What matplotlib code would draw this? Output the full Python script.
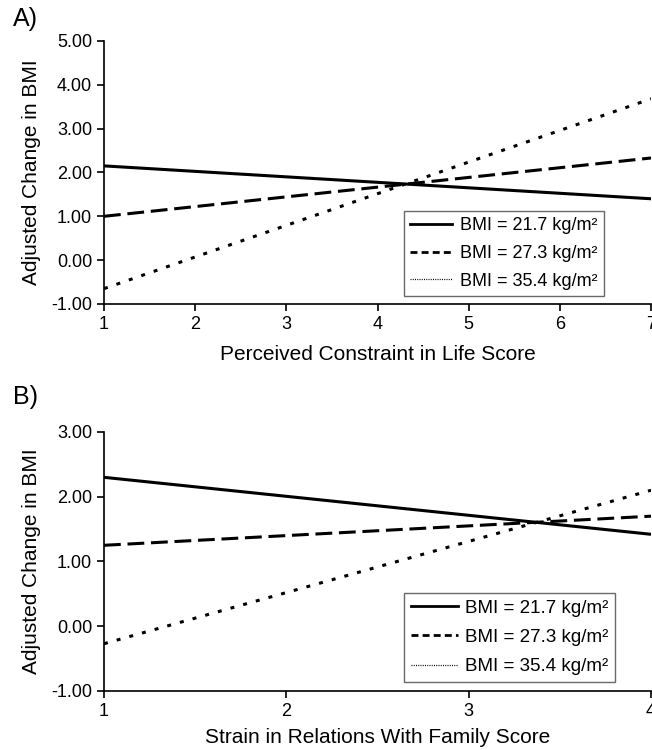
import matplotlib
matplotlib.use("Agg")
import matplotlib.pyplot as plt
from matplotlib.lines import Line2D
import numpy as np

plt.rcParams['font.family'] = ['Liberation Sans', 'DejaVu Sans']

# Panel A data
xA = [1, 7]
a_low = [2.15, 1.40]
a_mid = [1.00, 2.33]
a_high = [-0.65, 3.68]
# Panel B data
xB = [1, 4]
b_low = [2.30, 1.42]
b_mid = [1.25, 1.70]
b_high = [-0.27, 2.10]

labelsA = ["BMI = 21.7 kg/m²", "BMI = 27.3 kg/m²", "BMI = 35.4 kg/m²"]
labelsB = ["BMI = 21.7 kg/m²", "BMI = 27.3 kg/m²", "BMI = 35.4 kg/m²"]

fig = plt.figure(figsize=(6.52, 7.5), dpi=100)
axA = fig.add_axes([0.1595, 0.5947, 0.839, 0.3507])
axB = fig.add_axes([0.1595, 0.0787, 0.839, 0.3453])

lw = 2.2
def draw(ax, x, lo, mid, hi):
    ax.plot(x, lo, color='black', lw=lw, solid_capstyle='butt')
    ax.plot(x, mid, color='black', lw=lw, dashes=(5.5, 2.2))
    ax.plot(x, hi, color='black', lw=lw, dashes=(1.3, 3.0))

draw(axA, xA, a_low, a_mid, a_high)
draw(axB, xB, b_low, b_mid, b_high)

for ax in (axA, axB):
    ax.spines['top'].set_visible(False)
    ax.spines['right'].set_visible(False)
    ax.spines['left'].set_linewidth(1.2)
    ax.spines['bottom'].set_linewidth(1.2)
    ax.tick_params(direction='out', length=5, width=1.2, labelsize=13)
    ax.yaxis.set_major_formatter(matplotlib.ticker.FormatStrFormatter('%.2f'))
    ax.set_ylabel('Adjusted Change in BMI', fontsize=15, labelpad=7)

axA.set_xlim(1, 7)
axA.set_ylim(-1, 5)
axA.set_xticks(range(1, 8))
axA.set_yticks(np.arange(-1, 5.01, 1))
axA.set_xlabel('Perceived Constraint in Life Score', fontsize=15, labelpad=9)

axB.set_xlim(1, 4)
axB.set_ylim(-1, 3)
axB.set_xticks(range(1, 5))
axB.set_yticks(np.arange(-1, 3.01, 1))
axB.set_xlabel('Strain in Relations With Family Score', fontsize=15, labelpad=6)

def handles():
    return [Line2D([], [], color='black', lw=2.0),
            Line2D([], [], color='black', lw=2.0, dashes=(2.5, 1.5)),
            Line2D([], [], color='black', lw=0.9, dashes=(0.8, 1.0))]

legA = axA.legend(handles(), labelsA, loc='lower left', bbox_to_anchor=(0.548, 0.03),
                  fontsize=13, frameon=True, fancybox=False, shadow=False,
                  handlelength=2.3, handletextpad=0.45, borderpad=0.35, labelspacing=0.6,
                  borderaxespad=0)
legA.get_frame().set_edgecolor('#444444')
legA.get_frame().set_linewidth(1.0)

legB = axB.legend(handles(), labelsB, loc='lower left', bbox_to_anchor=(0.549, 0.035),
                  fontsize=13.5, frameon=True, fancybox=False, shadow=False,
                  handlelength=2.5, handletextpad=0.4, borderpad=0.35, labelspacing=0.65,
                  borderaxespad=0)
legB.get_frame().set_edgecolor('#444444')
legB.get_frame().set_linewidth(1.0)

fig.text(13/652, 1 - 19/750, 'A)', fontsize=18, va='center', ha='left')
fig.text(13/652, 1 - 397/750, 'B)', fontsize=18, va='center', ha='left')

fig.savefig('out.png', dpi=100)
